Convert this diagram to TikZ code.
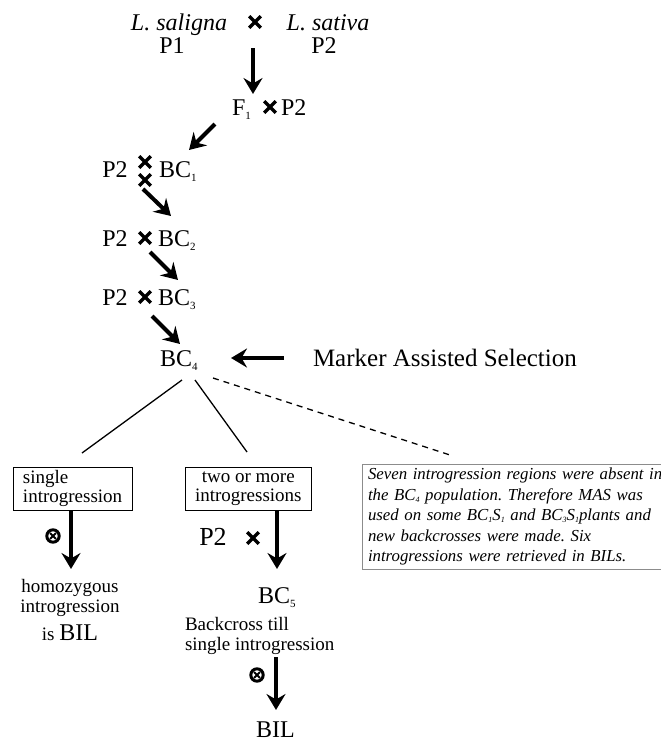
\documentclass[tikz,border=0pt]{standalone}
\usepackage{fontspec}
\setmainfont{Liberation Serif}
\usetikzlibrary{arrows.meta}
\frenchspacing
\newcommand\mysub[3]{\raisebox{-#2}{\fontsize{#1}{#1}\selectfont #3}}
\begin{document}
\begin{tikzpicture}[x=1pt,y=-1pt,
  every node/.style={inner sep=0pt, outer sep=0pt},
  big/.style={font=\fontsize{24}{28}\selectfont},
  bigit/.style={font=\fontsize{24}{28}\selectfont\itshape},
  mid/.style={font=\fontsize{19}{20}\selectfont},
  bigarrow/.style={line width=4pt, -{Stealth[length=16pt,width=19pt,inset=5.5pt]}},
  thinline/.style={line width=1.3pt},
  xmark/.pic={\draw[line width=3.4pt] (-5.8,-5.8) -- (5.8,5.8) (-5.8,5.8) -- (5.8,-5.8);},
  otimes/.pic={\draw[line width=3pt] (0,0) circle (6.2);
               \draw[line width=1.8pt] (-2.9,-2.9) -- (2.9,2.9) (-2.9,2.9) -- (2.9,-2.9);},
  smallbox/.style={draw, line width=0.8pt, minimum height=43pt, inner xsep=10pt,
                   font=\fontsize{19}{19}\selectfont, anchor=north west},
  notebox/.style={draw=black!45, line width=1pt, anchor=north west, align=left,
                  inner xsep=6pt, inner ysep=4pt, text width=318pt,
                  font=\fontsize{16.8}{20.5}\selectfont\itshape}
]
\useasboundingbox (0,0) rectangle (661,742);

% parents
\node[bigit, anchor=base] (sal) at (179,30) {L. saligna};
\node[big, anchor=base] (p1) at (172,53) {P1};
\pic at (255,22) {xmark};
\node[bigit, anchor=base] (sat) at (328,30) {L. sativa};
\node[big, anchor=base] (p2a) at (324,53) {P2};
\coordinate (a1s) at (253,48); \coordinate (a1e) at (253,94);
\draw[bigarrow] (a1s) -- (a1e);

% F1
\node[big, anchor=base west] (f1) at (232,115) {F\mysub{11}{4pt}{1}};
\pic at (270,107) {xmark};
\node[big, anchor=base west] (p2b) at (281,115) {P2};
\coordinate (a2s) at (215,124); \coordinate (a2e) at (189,150);
\draw[bigarrow] (a2s) -- (a2e);

% BC1
\node[big, anchor=base] (p2c) at (115,177) {P2};
\pic at (145,162) {xmark};
\pic at (145,180) {xmark};
\node[big, anchor=base west] (bc1) at (159,177) {BC\mysub{11}{4pt}{1}};
\coordinate (a3s) at (143,189); \coordinate (a3e) at (171,216);
\draw[bigarrow] (a3s) -- (a3e);

% BC2
\node[big, anchor=base] (p2d) at (115,246) {P2};
\pic at (145,238) {xmark};
\node[big, anchor=base west] (bc2) at (158,246) {BC\mysub{11}{4pt}{2}};
\coordinate (a4s) at (150,252); \coordinate (a4e) at (178,280);
\draw[bigarrow] (a4s) -- (a4e);

% BC3
\node[big, anchor=base] (p2e) at (115,305) {P2};
\pic at (145,297) {xmark};
\node[big, anchor=base west] (bc3) at (158,305) {BC\mysub{11}{4pt}{3}};
\coordinate (a5s) at (152,316); \coordinate (a5e) at (180,344);
\draw[bigarrow] (a5s) -- (a5e);

% BC4 and MAS
\node[big, anchor=base west] (bc4) at (160,366) {BC\mysub{11}{4pt}{4}};
\node[font=\fontsize{25}{28}\selectfont, anchor=base west] (mas) at (313,366) {Marker Assisted Selection};
\coordinate (m1) at (284,358); \coordinate (m2) at (231,358);
\draw[bigarrow] (m1) -- (m2);

% branches
\coordinate (l1s) at (182,380); \coordinate (l1e) at (82,453);
\coordinate (l2s) at (195,380); \coordinate (l2e) at (247,452);
\coordinate (l3s) at (213,378); \coordinate (l3e) at (450,455);
\draw[thinline] (l1s) -- (l1e);
\draw[thinline] (l2s) -- (l2e);
\draw[thinline, dash pattern=on 6pt off 5pt] (l3s) -- (l3e);

% boxes
\node[smallbox, align=left] (box1) at (13,467) {single\\introgression};
\node[smallbox, align=center] (box2) at (185,467) {two or more\\introgressions};
\node[notebox] (box3) at (362,464) {Seven introgression regions were absent in\\
the BC\mysub{8}{2pt}{4} population. Therefore MAS was\\
used on some BC\mysub{8}{2pt}{1}S\mysub{8}{2pt}{1} and BC\mysub{8}{2pt}{3}S\mysub{8}{2pt}{1}plants and\\
new backcrosses were made. Six\\
introgressions were retrieved in BILs.};

% left branch
\pic at (53,536) {otimes};
\coordinate (b1s) at (71,511); \coordinate (b1e) at (71,569);
\draw[bigarrow] (b1s) -- (b1e);
\node[mid, anchor=base] (hom) at (70,592) {homozygous};
\node[mid, anchor=base] (intr) at (70,612) {introgression};
\node[mid, anchor=base] (isbil) at (70,640) {is {\fontsize{24}{24}\selectfont BIL}};

% middle branch
\node[font=\fontsize{26}{28}\selectfont, anchor=base] (p2f) at (213,545) {P2};
\pic at (253,538) {xmark};
\coordinate (b2s) at (277,511); \coordinate (b2e) at (277,569);
\draw[bigarrow] (b2s) -- (b2e);
\node[big, anchor=base west] (bc5) at (258,603) {BC\mysub{11}{4pt}{5}};
\node[mid, anchor=base west] (bct) at (185,630) {Backcross till};
\node[mid, anchor=base west] (sgl) at (185,650) {single introgression};
\pic at (257,675) {otimes};
\coordinate (b3s) at (276,657); \coordinate (b3e) at (276,710);
\draw[bigarrow] (b3s) -- (b3e);
\node[big, anchor=base west] (bil) at (256,737) {BIL};
\end{tikzpicture}
\end{document}
